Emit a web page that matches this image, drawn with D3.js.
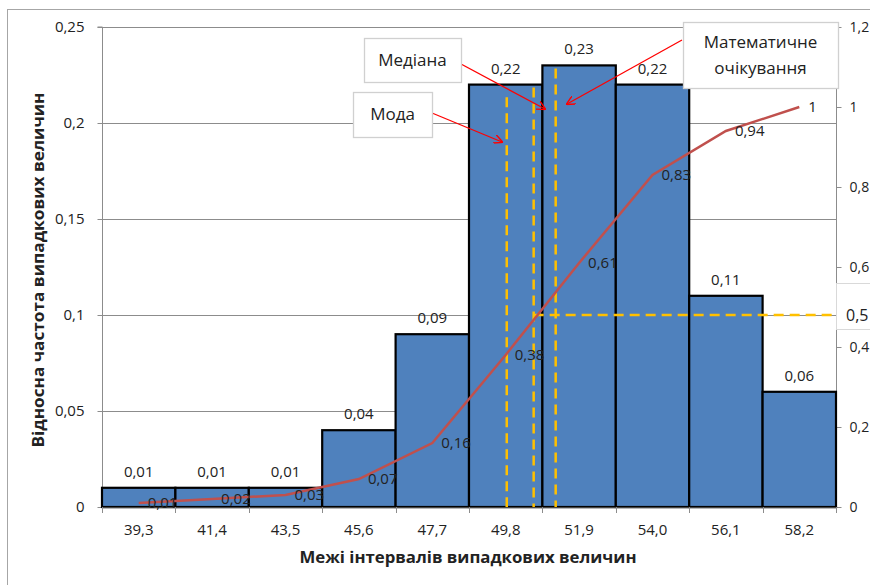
<!DOCTYPE html>
<html><head><meta charset="utf-8">
<script src="https://cdn.jsdelivr.net/npm/d3@7"></script>
<style>body{margin:0;background:#fff}svg{display:block}text{font-family:"Open Sans",Lato,sans-serif}</style>
</head><body>
<svg id="c" width="870" height="585"></svg>
<script>
const categories = ["39,3","41,4","43,5","45,6","47,7","49,8","51,9","54,0","56,1","58,2"];
const catValues = [39.3,41.4,43.5,45.6,47.7,49.8,51.9,54.0,56.1,58.2];
const freq = [0.01,0.01,0.01,0.04,0.09,0.22,0.23,0.22,0.11,0.06];
const cumul = [0.01,0.02,0.03,0.07,0.16,0.38,0.61,0.83,0.94,1];
const leftTicks = [0,0.05,0.1,0.15,0.2,0.25];
const rightTicks = [0,0.2,0.4,0.6,0.8,1,1.2];
const modeVal = 49.83, medianVal = 50.6, meanVal = 51.23;
const medianCum = 0.48;
const markerLines = [
  {v: modeVal, top: 0.215},
  {v: medianVal, top: 0.22},
  {v: meanVal, top: 0.23}
];

const svg = d3.select("#c");
const L = 102, R = 836, T = 27, B = 507;
const fmt = v => d3.format(".2~f")(v).replace(".", ",");
const FS = 15;

const x = d3.scaleBand().domain(categories).range([L, R]).paddingInner(0).paddingOuter(0);
const bw = x.bandwidth();
const y = d3.scaleLinear().domain([0, 0.25]).range([B, T]);
const y2 = d3.scaleLinear().domain([0, 1.2]).range([B, T]);
const xv = d3.scaleLinear().domain([catValues[0], catValues[9]])
  .range([x(categories[0]) + bw/2, x(categories[9]) + bw/2]);

// outer border
svg.append("rect").attr("x",7.5).attr("y",9.5).attr("width",900).attr("height",600)
  .attr("fill","none").attr("stroke","#a6a6a6");

// gridlines
svg.append("g").selectAll("line").data(leftTicks.slice(1)).join("line")
  .attr("x1",L).attr("x2",R).attr("y1",d=>Math.round(y(d))+0.5).attr("y2",d=>Math.round(y(d))+0.5)
  .attr("stroke","#8c8c8c").attr("stroke-width",1);

// left axis
const gl = svg.append("g").attr("transform",`translate(${L+0.5},0)`)
  .call(d3.axisLeft(y).tickValues(leftTicks).tickFormat(fmt).tickSize(5).tickPadding(13));
gl.select(".domain").attr("stroke","#8c8c8c").attr("d",`M-5,${T}H0V${B}`);
gl.selectAll(".tick line").attr("stroke","#8c8c8c");
gl.selectAll(".tick text").attr("font-size",FS).attr("fill","#222").attr("font-family","Open Sans");

// right axis
const gr = svg.append("g").attr("transform",`translate(${R+0.5},0)`)
  .call(d3.axisRight(y2).tickValues(rightTicks).tickFormat(fmt).tickSize(5).tickPadding(8));
gr.select(".domain").attr("stroke","#8c8c8c").attr("d",`M0,${T}V${B}`);
gr.selectAll(".tick line").attr("stroke","#8c8c8c");
gr.selectAll(".tick text").attr("font-size",14).attr("fill","#222").attr("font-family","Open Sans");

// bars
svg.append("g").selectAll("rect").data(freq).join("rect")
  .attr("x",(d,i)=>x(categories[i])).attr("y",d=>y(d))
  .attr("width",bw).attr("height",d=>B-y(d))
  .attr("fill","#4f81bd").attr("stroke","#000").attr("stroke-width",2.2);

// bottom axis
const gb = svg.append("g").attr("transform",`translate(0,${B+0.5})`)
  .call(d3.axisBottom(x).tickSize(0).tickPadding(17));
gb.select(".domain").attr("stroke","#8c8c8c");
gb.selectAll(".tick text").attr("font-size",FS).attr("fill","#222").attr("font-family","Open Sans");
svg.append("g").selectAll("line").data(d3.range(categories.length+1)).join("line")
  .attr("x1",i=>Math.round(L+i*bw)+0.5).attr("x2",i=>Math.round(L+i*bw)+0.5)
  .attr("y1",B).attr("y2",B+6).attr("stroke","#8c8c8c");

// bar labels
svg.append("g").selectAll("text").data(freq).join("text")
  .attr("x",(d,i)=>x(categories[i])+bw/2).attr("y",d=>y(d)-11)
  .attr("text-anchor","middle").attr("font-size",FS).attr("fill","#222").text(fmt);

// dashed marker lines
const gold = "#ffc000";
svg.append("g").selectAll("line").data(markerLines).join("line")
  .attr("x1",d=>xv(d.v)).attr("x2",d=>xv(d.v)).attr("y1",d=>y(d.top)+3).attr("y2",B)
  .attr("stroke",gold).attr("stroke-width",2.5).attr("stroke-dasharray","10,6");
svg.append("line").attr("x1",xv(medianVal)).attr("x2",R).attr("y1",y2(medianCum)).attr("y2",y2(medianCum))
  .attr("stroke",gold).attr("stroke-width",2.5).attr("stroke-dasharray","10,6");

// cumulative line
const line = d3.line().x((d,i)=>x(categories[i])+bw/2).y(d=>y2(d));
svg.append("path").datum(cumul).attr("d",line).attr("fill","none")
  .attr("stroke","#c0504d").attr("stroke-width",2.5);
svg.append("g").selectAll("text").data(cumul).join("text")
  .attr("x",(d,i)=>x(categories[i])+bw/2+9).attr("y",d=>y2(d)).attr("dy","0.35em")
  .attr("font-size",FS).attr("fill","#222").text(fmt);

// 0,5 box on right axis
svg.append("rect").attr("x",836.5).attr("y",283.5).attr("width",60).attr("height",46)
  .attr("fill","#fff").attr("stroke","#d9d9d9");
svg.append("text").attr("x",846).attr("y",y2(medianCum)).attr("dy","0.35em")
  .attr("font-size",16).attr("fill","#222").text(fmt(0.5));

// callouts
const defs = svg.append("defs");
defs.append("marker").attr("id","ah").attr("viewBox","0 0 10 10").attr("refX",9).attr("refY",5)
  .attr("markerWidth",9).attr("markerHeight",9).attr("orient","auto").attr("markerUnits","userSpaceOnUse")
  .append("path").attr("d","M0,0L10,5L0,10").attr("fill","none").attr("stroke","#ff0000").attr("stroke-width",1.6);

const callouts = [
  {lines:["Медіана"], bx:364, by:38, bw:97, bh:44, ax1:461, ay1:64, ax2:545, ay2:109},
  {lines:["Мода"], bx:353, by:92, bw:79, bh:45, ax1:432, ay1:113, ax2:502, ay2:142},
  {lines:["Математичне","очікування"], bx:683, by:22, bw:155, bh:66, ax1:682, ay1:40, ax2:567, ay2:104}
];
callouts.forEach(c=>{
  svg.append("line").attr("x1",c.ax1).attr("y1",c.ay1).attr("x2",c.ax2).attr("y2",c.ay2)
    .attr("stroke","#ff0000").attr("stroke-width",1.3).attr("marker-end","url(#ah)");
  svg.append("rect").attr("x",c.bx+0.5).attr("y",c.by+0.5).attr("width",c.bw).attr("height",c.bh)
    .attr("fill","#fff").attr("stroke","#d0d0d0").attr("stroke-width",1.3);
  const n = c.lines.length;
  c.lines.forEach((t,i)=>{
    svg.append("text").attr("x",c.bx+c.bw/2).attr("y",c.by+c.bh/2+(i-(n-1)/2)*26)
      .attr("dy","0.35em").attr("text-anchor","middle").attr("font-size",17).attr("fill","#222").text(t);
  });
});

// axis titles
svg.append("text").attr("x",468).attr("y",563).attr("text-anchor","middle")
  .attr("font-size",16).attr("font-weight","bold").attr("fill","#222")
  .attr("textLength",337).attr("lengthAdjust","spacingAndGlyphs")
  .text("Межі інтервалів випадкових  величин");
svg.append("text").attr("transform","translate(44,270) rotate(-90)").attr("text-anchor","middle")
  .attr("font-size",16).attr("font-weight","bold").attr("fill","#222")
  .attr("textLength",355).attr("lengthAdjust","spacingAndGlyphs")
  .text("Відносна частота випадкових  величин");
</script>
</body></html>
